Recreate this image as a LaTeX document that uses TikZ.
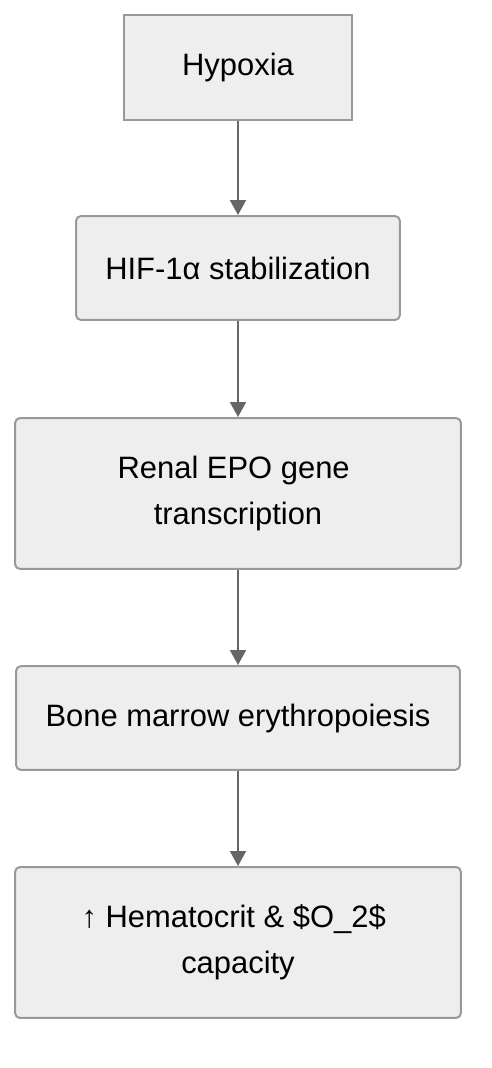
\documentclass[tikz,border=0pt]{standalone}
\usepackage{fontspec}
\setmainfont{Liberation Sans}
\usetikzlibrary{arrows.meta}
\definecolor{boxfill}{HTML}{EEEEEE}
\definecolor{boxline}{HTML}{999999}
\definecolor{arrline}{HTML}{666666}
\tikzset{
  stepbox/.style={draw=boxline,fill=boxfill,line width=0.04cm,align=center,
    font=\fontsize{17.6}{26.2}\selectfont,inner sep=0pt},
  flow/.style={draw=arrline,line width=0.04cm,-{Triangle[length=0.3cm,width=0.32cm]}}
}
\begin{document}
\begin{tikzpicture}[x=0.02cm,y=-0.02cm]
                 \useasboundingbox (0,0) rectangle (492,1068);
                 \node[stepbox,minimum width=4.56cm,minimum height=2.1cm] (hyp) at (238,67.5) {Hypoxia};
                 \node[stepbox,rounded corners=0.1cm,minimum width=6.48cm,minimum height=2.08cm] (hif) at (238,268) {HIF-1α stabilization};
                 \node[stepbox,rounded corners=0.1cm,minimum width=8.92cm,minimum height=3.02cm] (epo) at (238,493.5) {Renal EPO gene\hspace*{0.28em}\\transcription};
                 \node[stepbox,rounded corners=0.1cm,minimum width=8.88cm,minimum height=2.08cm] (bone) at (238,718) {Bone marrow erythropoiesis};
                 \node[stepbox,rounded corners=0.1cm,minimum width=8.92cm,minimum height=3.02cm] (hct) at (238,942.5) {↑ Hematocrit \& \$O\_2\$\hspace*{0.28em}\\capacity};
                 \draw[flow] (hyp) -- (hif);
                 \draw[flow] (hif) -- (epo);
                 \draw[flow] (epo) -- (bone);
                 \draw[flow] (bone) -- (hct);
                \end{tikzpicture}
\end{document}
